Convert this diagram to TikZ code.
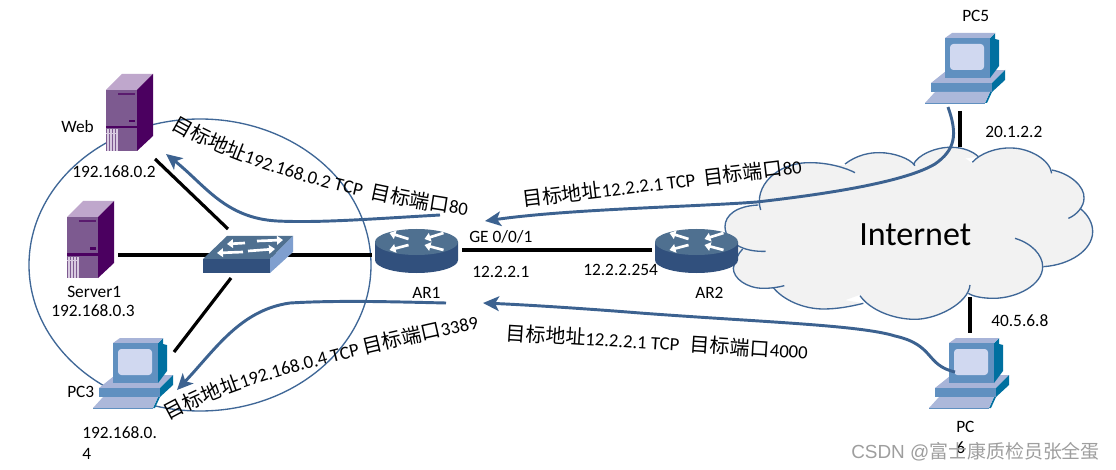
\documentclass[tikz,border=0pt]{standalone}
\usepackage{fontspec}
\setmainfont{Carlito}
\newfontfamily\cjk{Noto Sans CJK SC}
\newfontfamily\wmfont{Liberation Sans}
\usetikzlibrary{arrows.meta,decorations.text}
\definecolor{lineblue}{HTML}{3F6797}
\definecolor{flowblue}{HTML}{3C6290}
\definecolor{cloudfill}{HTML}{F2F2F2}
\definecolor{srvtop}{HTML}{BFA7CC}
\definecolor{srvfront}{HTML}{7D5A90}
\definecolor{srvside}{HTML}{4B0060}
\definecolor{nettop}{HTML}{4F7090}
\definecolor{netfront}{HTML}{31507D}
\definecolor{netside}{HTML}{7F9FCF}
\definecolor{pcfront}{HTML}{6090C0}
\definecolor{pcscreen}{HTML}{D0D8F0}
\definecolor{pctop}{HTML}{A8B4D8}
\definecolor{pcteal}{HTML}{0070A0}
\newcommand\lfont{\fontsize{13}{15}\selectfont}
\newcommand\rfont{\fontsize{14}{16}\selectfont}
\newcommand\cfont{\cjk\fontsize{15}{16}\selectfont}
\tikzset{
  lbl/.style={inner sep=0pt,anchor=base west,font=\lfont,text=black},
  wire/.style={draw=black,line width=2.4pt},
  flow/.style={draw=flowblue,line width=2.2pt,-{Stealth[length=12pt,width=11pt,inset=3pt]}},
  lobe/.style={draw=lineblue,line width=1pt},
  whitearrow/.style={draw=white,line width=2pt,-{Triangle[length=4.5pt,width=6.5pt]}},
  server/.pic={
    \fill[srvfront] (0,0) rectangle (31,61);
    \fill[srvtop] (0,0) -- (16,-16) -- (47,-16) -- (31,0) -- cycle;
    \fill[srvside] (31,0) -- (47,-16) -- (47,46) -- (31,61) -- cycle;
    \fill[srvside] (0,36) rectangle (31,38.5);
    \fill[srvside!70!srvfront] (12,3) rectangle (29,5);
    \fill[srvside] (23,30) rectangle (29,32.5);
    \foreach \sx in {1,4,7,10} \fill[srvtop!60!white] (\sx,39.5) rectangle ++(1.6,21.5);
    \fill[srvtop!60!white] (0,43) rectangle (12,44);
  },
  pcicon/.pic={
    \fill[pctop] (-14,45) -- (1,33) -- (60,32) -- (47,45) -- cycle;
    \fill[pcfront] (-14,45) rectangle (47,54);
    \fill[pcteal] (47,45) -- (60,32) -- (60,42) -- (47,54) -- cycle;
    \fill[pcteal] (40,65) -- (45,54) -- (47,54) -- (42,65) -- cycle;
    \fill[pctop!95!white] (-20,65) -- (-10,54) -- (45,54) -- (40,65) -- cycle;
    \fill[pcfront] (-20,65) rectangle (40,66);
    \fill[pcteal] (45,0) -- (50,-5) -- (50,1) -- (54,2) -- (54,28) -- (45,40) -- cycle;
    \fill[pctop] (0,0) -- (7,-5) -- (50,-5) -- (45,0) -- cycle;
    \fill[pcfront] (0,0) rectangle (45,40);
    \fill[pcscreen,rounded corners=2.5pt] (5,6) rectangle (39,32);
  },
  routericon/.pic={
    \fill[netfront] (-41.5,0) -- (-41.5,18) arc[start angle=180,end angle=0,x radius=41.5,y radius=13] -- (41.5,0) -- cycle;
    \fill[nettop] (0,0) ellipse[x radius=41.5,y radius=13];
    \draw[whitearrow] (-8,-3) -- (-27,-9);
    \draw[whitearrow] (-8,3) -- (-27,8);
    \draw[whitearrow] (27,-9) -- (8,-3);
    \draw[whitearrow] (27,8) -- (8,3);
  },
}
\begin{document}
\begin{tikzpicture}[x=0.75pt,y=-0.75pt]
\useasboundingbox (0,0) rectangle (1116,470);
\fill[white] (0,0) rectangle (1116,470);

% subnet ellipse
\draw[lobe] (200,265) ellipse[x radius=171,y radius=146];

% named ends of the links
\coordinate (webEnd) at (155,159);
\coordinate (swWeb) at (228,229);
\coordinate (srvEnd) at (118,255);
\coordinate (arEnd) at (372,255);
\coordinate (swPc) at (231,278);
\coordinate (pcEnd) at (174,352);
\coordinate (ar1Port) at (462,250);
\coordinate (ar2Port) at (652,250);
\coordinate (pc5End) at (960,111);
\coordinate (cloudTop) at (960,147);
\coordinate (cloudBot) at (970,297);
\coordinate (pc6End) at (970,333);

\draw[wire] (webEnd) -- (swWeb);
\draw[wire] (srvEnd) -- (arEnd);
\draw[wire] (swPc) -- (pcEnd);
\draw[wire] (ar1Port) -- (ar2Port);
\draw[wire] (pc5End) -- (cloudTop);
\draw[wire] (cloudBot) -- (pc6End);

% cloud
\begin{scope}[shift={(720,130)},scale=0.33333]
  \def\lobeA{(115,225) .. controls (50,228) and (15,255) .. (15,290) .. controls (15,315) and (35,340) .. (50,350)}
  \def\lobeB{(122,240) .. controls (100,170) and (170,97) .. (270,98) .. controls (330,98) and (380,115) .. (405,128)}
  \def\lobeC{(375,102) .. controls (410,75) and (450,67) .. (480,68) .. controls (520,68) and (570,85) .. (585,107)}
  \def\lobeD{(580,105) .. controls (590,75) and (650,50) .. (695,52) .. controls (730,52) and (760,65) .. (775,80)}
  \def\lobeE{(757,97) .. controls (780,70) and (830,52) .. (875,54) .. controls (930,55) and (990,90) .. (995,130)}
  \def\lobeF{(995,120) .. controls (1050,130) and (1095,170) .. (1092,205) .. controls (1092,230) and (1070,255) .. (1045,265)}
  \def\lobeG{(1080,235) .. controls (1105,255) and (1118,280) .. (1118,305) .. controls (1118,360) and (1050,405) .. (970,410)}
  \def\lobeH{(885,325) .. controls (935,340) and (968,375) .. (968,410) .. controls (968,465) and (890,505) .. (820,505) .. controls (790,505) and (760,500) .. (745,490)}
  \def\lobeI{(750,465) .. controls (745,520) and (650,568) .. (585,568) .. controls (520,568) and (450,540) .. (420,497)}
  \def\lobeJ{(430,520) .. controls (390,530) and (350,537) .. (310,537) .. controls (250,537) and (190,510) .. (160,473)}
  \def\lobeK{(193,467) .. controls (170,473) and (150,475) .. (130,475) .. controls (80,475) and (40,445) .. (40,415) .. controls (45,390) and (55,370) .. (68,357)}
  \def\lobeL{(50,345) .. controls (75,360) and (105,365) .. (137,364)}
  \foreach \lb in {\lobeA,\lobeB,\lobeC,\lobeD,\lobeE,\lobeF,\lobeG,\lobeH,\lobeI,\lobeJ,\lobeK}{
    \fill[cloudfill] \lb -- cycle;
  }
  \filldraw[fill=cloudfill,draw=cloudfill,line width=2pt,line join=round]
    (58,345) -- (30,290) -- (122,232) -- (270,105) -- (375,110) -- (480,75) -- (580,113) -- (695,60) -- (757,105) -- (875,62) -- (988,127) -- (1085,205) -- (1072,240) -- (1110,305) -- (962,405) -- (820,497) -- (745,482) -- (585,560) -- (420,490) -- (310,530) -- (165,465) -- (130,468) -- (48,410) -- cycle;
  \foreach \lb in {\lobeA,\lobeB,\lobeC,\lobeD,\lobeE,\lobeF,\lobeG,\lobeH,\lobeI,\lobeJ,\lobeK,\lobeL}{
    \draw[lobe] \lb;
  }
\end{scope}

% devices
\pic at (106,90) {server};
\pic at (67,217) {server};
\pic at (113,343) {pcicon};
\pic at (945,38) {pcicon};
\pic at (949,343) {pcicon};
\pic at (416.5,242) {routericon};
\pic at (696.5,242) {routericon};

% switch
\fill[nettop] (203,259) -- (227,236) -- (293,236) -- (270,259) -- cycle;
\fill[netfront] (203,259) rectangle (270,273);
\fill[netside] (270,259) -- (293,236) -- (293,252) -- (270,273) -- cycle;
\draw[whitearrow] (245,243) -- (227,244);
\draw[whitearrow] (257,241) -- (283,240);
\draw[whitearrow] (243,252) -- (217,253);
\draw[whitearrow] (248,251) -- (275,249);

% traffic arrows
\coordinate (f1a) at (440,215);
\coordinate (f1b) at (166,154);
\coordinate (f2a) at (446,303);
\coordinate (f2b) at (177,390);
\coordinate (f3a) at (948,107);
\coordinate (f3b) at (485,221);
\coordinate (f4a) at (955,372);
\coordinate (f4b) at (483,303);
\draw[flow] (f1a) .. controls (370,219) and (320,223) .. (277,221) .. controls (225,218) and (205,185) .. (f1b);
\draw[flow] (f2a) .. controls (400,302) and (340,300) .. (290,303) .. controls (240,310) and (215,350) .. (f2b);
\draw[flow] (f3a) .. controls (958,135) and (955,150) .. (935,164) .. controls (900,185) and (800,197) .. (757,202) .. controls (690,207) and (570,209) .. (f3b);
\draw[flow] (f4a) .. controls (925,365) and (935,345) .. (895,336) .. controls (860,325) and (760,322) .. (640,313) .. controls (590,309) and (530,305) .. (f4b);

% curved labels
\path[decorate,decoration={text along path,text={|\cfont|目标地址|\rfont|192.168.0.2 TCP |\cfont| 目标端口|\rfont|80}}]
  (171,128) .. controls (240,170) and (370,205) .. (495,219);
\path[decorate,decoration={text along path,text={|\cfont|目标地址|\rfont|192.168.0.4 TCP |\cfont|目标端口|\rfont|3389}}]
  (169,421) .. controls (240,380) and (360,355) .. (490,326);
\node[lbl,font=\rfont,rotate=6.9] (t3) at (523,207) {{\cfont 目标地址}12.2.2.1 TCP\hspace{3pt} {\cfont 目标端口}80};
\node[lbl,font=\rfont,rotate=-3.6] (t4) at (505,340) {{\cfont 目标地址}12.2.2.1 TCP\hspace{5pt} {\cfont 目标端口}4000};

% labels
\node[lbl] (lweb) at (61,133) {Web};
\node[lbl] (lwebip) at (72,178) {192.168.0.2};
\node[lbl] (lsrv) at (67,297) {Server1};
\node[lbl] (lsrvip) at (51,316) {192.168.0.3};
\node[lbl] (lpc3) at (67,397) {PC3};
\node[lbl,align=left,anchor=north west] (lpc3ip) at (82,426) {192.168.0.\\[1pt]4};
\node[lbl] (lar1) at (412,298) {AR1};
\node[lbl] (lge) at (469,243) {GE 0/0/1};
\node[lbl] (lip1) at (472,277) {12.2.2.1};
\node[lbl] (lip2) at (583,275) {12.2.2.254};
\node[lbl] (lar2) at (695,298) {AR2};
\node[lbl] (lpc5) at (962,22) {PC5};
\node[lbl] (lip5) at (985,138) {20.1.2.2};
\node[lbl] (lip6) at (991,326) {40.5.6.8};
\node[lbl,align=left,anchor=north west] (lpc6) at (956,421) {PC\\[1pt]6};
\node[lbl,font=\fontsize{25.5}{30}\selectfont] (lnet) at (859,246) {Internet};
\node[lbl,font=\wmfont\fontsize{14.2}{17}\selectfont,text=black!38] (wm) at (851,458) {CSDN @{\cjk 富士康质检员张全蛋}};
\end{tikzpicture}
\end{document}
